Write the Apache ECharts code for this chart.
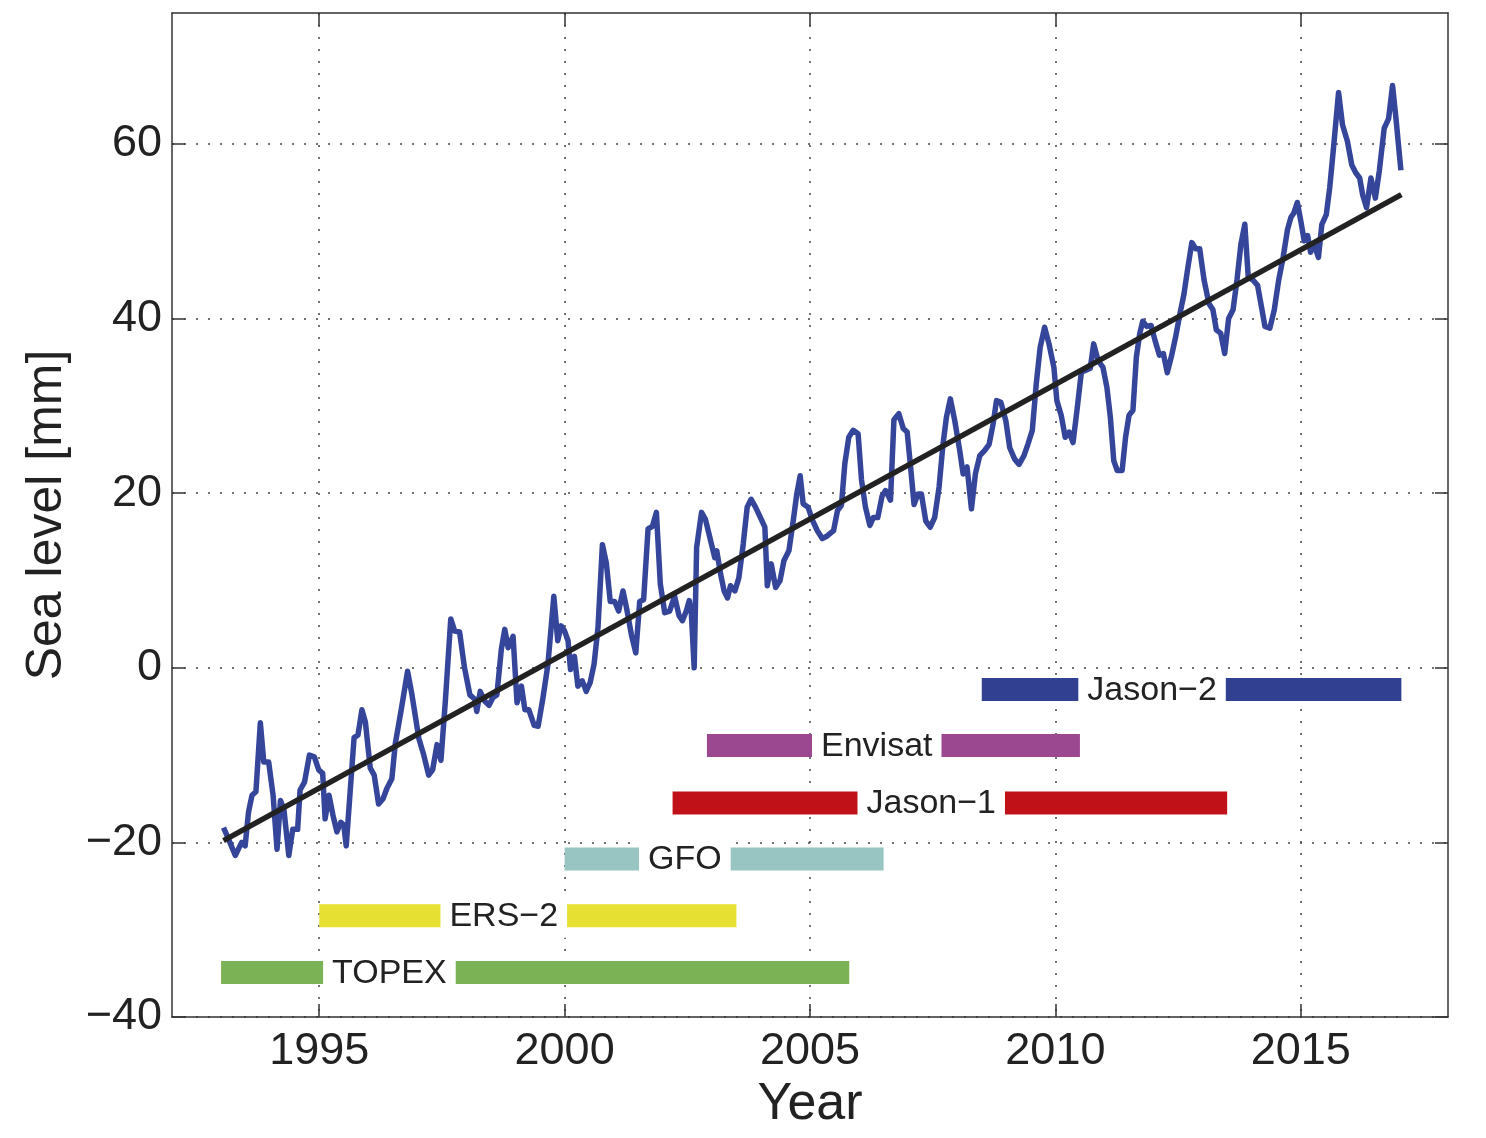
<!DOCTYPE html>
<html>
<head>
<meta charset="utf-8">
<script src="https://cdn.jsdelivr.net/npm/echarts@6/dist/echarts.min.js"></script>
<style>
html,body{margin:0;padding:0;background:#fff;}
#chart{width:1486px;height:1138px;}
</style>
</head>
<body>
<div id="chart"></div>
<script>
// ---- Data ----
const years = [
1993.05,1993.15,1993.29,1993.35,1993.42,1993.49,1993.56,1993.63,1993.71,1993.80,1993.87,1993.97,
1994.06,1994.14,1994.21,1994.28,1994.38,1994.46,1994.56,1994.61,1994.70,1994.80,1994.90,1994.99,
1995.07,1995.12,1995.20,1995.28,1995.36,1995.44,1995.50,1995.55,1995.63,1995.71,1995.79,1995.87,1995.94,
1996.04,1996.12,1996.21,1996.30,1996.38,1996.48,1996.55,1996.68,1996.80,1996.89,
1997.03,1997.13,1997.23,1997.31,1997.40,1997.48,1997.57,1997.68,1997.76,1997.86,1997.96,
1998.07,1998.17,1998.21,1998.28,1998.37,1998.46,1998.54,1998.62,1998.71,1998.78,1998.85,1998.95,
1999.03,1999.12,1999.19,1999.27,1999.38,1999.46,1999.56,1999.66,1999.78,1999.86,1999.93,
2000.00,2000.07,2000.12,2000.20,2000.27,2000.36,2000.44,2000.52,2000.60,2000.68,2000.77,2000.85,2000.93,
2001.02,2001.10,2001.19,2001.26,2001.36,2001.45,2001.53,2001.61,2001.70,2001.79,2001.87,2001.95,
2002.04,2002.14,2002.24,2002.33,2002.40,2002.48,2002.54,2002.58,2002.64,2002.69,2002.79,2002.87,2002.96,
2003.06,2003.10,2003.18,2003.25,2003.32,2003.38,2003.47,2003.55,2003.64,2003.72,2003.80,2003.89,2003.99,
2004.08,2004.13,2004.21,2004.30,2004.39,2004.47,2004.57,2004.66,2004.73,2004.80,2004.86,2004.96,
2005.05,2005.15,2005.25,2005.35,2005.48,2005.56,2005.64,2005.71,2005.79,2005.88,2005.98,
2006.05,2006.13,2006.22,2006.29,2006.38,2006.47,2006.54,2006.64,2006.71,2006.81,2006.90,2006.98,
2007.05,2007.12,2007.20,2007.27,2007.36,2007.45,2007.54,2007.63,2007.71,2007.78,2007.86,2007.95,
2008.05,2008.12,2008.20,2008.29,2008.37,2008.46,2008.56,2008.65,2008.73,2008.80,2008.89,2008.99,
2009.07,2009.17,2009.26,2009.36,2009.44,2009.53,2009.61,2009.69,2009.78,2009.87,2009.97,
2010.03,2010.12,2010.20,2010.28,2010.36,2010.44,2010.53,2010.63,2010.71,2010.78,2010.87,2010.97,
2011.05,2011.12,2011.19,2011.26,2011.36,2011.43,2011.50,2011.58,2011.65,2011.72,2011.78,2011.86,2011.95,
2012.03,2012.12,2012.20,2012.28,2012.37,2012.45,2012.54,2012.62,2012.69,2012.78,2012.86,2012.94,
2013.03,2013.13,2013.21,2013.28,2013.37,2013.45,2013.53,2013.62,2013.70,2013.78,2013.86,2013.93,
2014.03,2014.12,2014.21,2014.27,2014.37,2014.46,2014.55,2014.64,2014.73,2014.80,2014.86,2014.93,
2015.00,2015.07,2015.14,2015.20,2015.27,2015.36,2015.43,2015.52,2015.59,2015.66,2015.77,2015.85,2015.95,
2016.04,2016.12,2016.20,2016.26,2016.34,2016.43,2016.52,2016.60,2016.70,2016.79,2016.87,2016.94,2017.04
];
const seaLevel = [
-18.3,-19.6,-21.5,-20.8,-20.0,-20.4,-16.5,-14.6,-14.2,-6.3,-10.8,-10.8,
-14.6,-20.8,-15.2,-16.2,-21.5,-18.5,-18.5,-14.0,-13.1,-10.0,-10.2,-11.7,
-12.1,-17.3,-14.6,-16.9,-18.8,-17.7,-18.0,-20.4,-14.2,-8.0,-7.7,-4.8,-6.2,
-11.5,-12.3,-15.6,-15.0,-13.8,-12.7,-8.7,-4.5,-0.4,-3.1,
-8.1,-10.0,-12.3,-11.7,-8.8,-10.6,-3.8,5.6,4.2,4.1,0.0,
-3.1,-3.6,-5.0,-2.7,-3.8,-4.3,-3.4,-3.1,2.1,4.4,2.3,3.6,
-4.0,-2.1,-4.8,-4.8,-6.6,-6.7,-3.4,0.4,8.2,3.1,4.8,
4.2,3.1,-0.2,1.3,-2.1,-1.5,-2.7,-1.7,0.4,4.6,14.1,12.0,7.6,
7.6,6.5,8.8,6.9,3.8,1.7,7.6,7.8,15.9,16.2,17.8,9.6,
6.3,6.5,8.2,6.0,5.4,6.5,7.7,6.5,0.0,13.8,17.8,17.0,14.9,
12.6,13.4,10.7,8.8,8.0,9.4,8.8,10.3,14.2,18.4,19.3,18.4,17.2,
16.1,9.4,11.9,9.2,10.0,12.3,13.4,16.9,19.9,22.0,18.8,18.4,
16.9,15.7,14.8,15.1,15.7,18.0,18.6,23.4,26.4,27.2,26.8,
21.5,18.4,16.3,17.2,17.2,19.7,20.3,19.2,28.4,29.1,27.4,27.0,
23.0,18.7,19.9,19.9,16.8,16.1,17.2,20.7,25.6,28.7,30.8,28.3,
24.9,22.2,23.0,18.2,22.2,24.3,24.9,25.6,27.9,30.6,30.4,28.3,
25.2,23.9,23.3,24.3,25.6,27.2,32.5,36.7,39.0,37.1,34.4,
30.6,28.9,26.4,27.0,25.8,29.5,33.9,34.1,34.3,37.1,35.2,34.4,
32.1,28.7,23.7,22.6,22.6,26.4,28.9,29.5,35.6,38.3,39.7,39.1,39.2,
37.5,35.8,36.0,33.8,35.8,37.9,40.6,42.8,45.5,48.7,48.0,48.0,
44.4,41.7,41.0,38.7,38.3,36.0,40.0,41.0,44.4,48.5,50.8,44.7,
44.4,43.8,41.0,39.1,38.9,41.0,44.4,47.0,50.2,51.6,52.1,53.3,
51.2,48.9,49.5,47.6,48.5,47.0,50.8,51.9,55.0,59.1,65.9,62.2,60.3,
57.6,56.7,56.1,54.2,52.7,56.1,53.8,56.9,61.8,62.9,66.7,62.9,57.0
];
const trendYears = [1993.05, 2017.05];
const trendLevel = [-19.8, 54.2];

const missionNames = ['TOPEX', 'ERS\u22122', 'GFO', 'Jason\u22121', 'Envisat', 'Jason\u22122'];
const missionStart = [1993.0, 1995.0, 2000.0, 2002.2, 2002.9, 2008.5];
const missionEnd   = [2005.8, 2003.5, 2006.5, 2013.5, 2010.5, 2017.05];
const missionLane  = [-34.9, -28.4, -21.9, -15.5, -8.9, -2.5];
const missionLabelAt = [1996.43, 1998.76, 2002.45, 2007.47, 2006.36, 2011.97];

const xTicks = [1995, 2000, 2005, 2010, 2015];
const yTicks = [-40, -20, 0, 20, 40, 60];

// ---- Styling ----
const missionColors = ['#7ab255', '#e6e032', '#98c4c2', '#c01018', '#9b4891', '#324091'];
const FONT = "'Liberation Sans', Arial, Helvetica, sans-serif";
const gridLine = { show: true, lineStyle: { color: '#444', width: 1.5, type: [2, 10] } };
const frameLine = { show: true, onZero: false, lineStyle: { color: '#333', width: 1.5 } };
const tickStyle = { show: true, inside: true, length: 13, lineStyle: { color: '#333', width: 1.5 } };
const minus = v => String(v).replace('-', '\u2212');

const curveData = years.map((y, i) => [y, seaLevel[i]]);
const trendData = trendYears.map((y, i) => [y, trendLevel[i]]);
const missionData = missionNames.map((n, i) => [missionStart[i], missionEnd[i], missionLane[i], missionLabelAt[i], i]);

const chart = echarts.init(document.getElementById('chart'), null, { renderer: 'canvas' });
chart.setOption({
  animation: false,
  backgroundColor: '#fff',
  grid: { left: 172, right: 38, top: 13, bottom: 121 },
  xAxis: [{
    type: 'value', min: 1992, max: 2018, position: 'bottom',
    name: 'Year', nameLocation: 'middle', nameGap: 56,
    nameTextStyle: { fontSize: 52, color: '#222', fontFamily: FONT },
    axisLine: frameLine,
    axisTick: Object.assign({ customValues: xTicks }, tickStyle),
    axisLabel: { customValues: xTicks, fontSize: 45, color: '#222', fontFamily: FONT, margin: 12, formatter: v => String(v) },
    splitLine: gridLine
  }, {
    type: 'value', min: 1992, max: 2018, position: 'top',
    axisLine: frameLine,
    axisTick: Object.assign({ customValues: xTicks }, tickStyle),
    axisLabel: { show: false },
    splitLine: { show: false }
  }],
  yAxis: [{
    type: 'value', min: -40, max: 75, interval: 20, position: 'left',
    name: 'Sea level [mm]', nameLocation: 'middle', nameGap: 100,
    nameTextStyle: { fontSize: 50, color: '#222', fontFamily: FONT },
    axisLine: frameLine,
    axisTick: Object.assign({ customValues: yTicks }, tickStyle),
    axisLabel: { customValues: yTicks, fontSize: 45, color: '#222', fontFamily: FONT, margin: 10, formatter: minus },
    splitLine: gridLine
  }, {
    type: 'value', min: -40, max: 75, interval: 20, position: 'right',
    axisLine: frameLine,
    axisTick: Object.assign({ customValues: yTicks }, tickStyle),
    axisLabel: { show: false },
    splitLine: { show: false }
  }],
  series: [{
    type: 'custom',
    name: 'missions',
    xAxisIndex: 0, yAxisIndex: 0,
    data: missionData,
    z: 3,
    renderItem: function (params, api) {
      const s = api.coord([api.value(0), api.value(2)]);
      const e = api.coord([api.value(1), api.value(2)]);
      const l = api.coord([api.value(3), api.value(2)]);
      const idx = api.value(4);
      const h = 23;
      return {
        type: 'group',
        children: [{
          type: 'rect',
          shape: { x: s[0], y: s[1] - h / 2, width: e[0] - s[0], height: h },
          style: { fill: missionColors[idx] }
        }, {
          type: 'text',
          x: l[0], y: l[1] + 1,
          style: {
            text: missionNames[idx], fill: '#222',
            font: '34px ' + FONT, align: 'center', verticalAlign: 'middle',
            backgroundColor: '#fff', padding: [4, 9]
          }
        }]
      };
    }
  }, {
    type: 'line',
    name: 'Sea level',
    data: curveData,
    showSymbol: false,
    z: 4,
    lineStyle: { color: '#35469a', width: 5.5, join: 'round' },
    itemStyle: { color: '#35469a' }
  }, {
    type: 'line',
    name: 'Trend',
    data: trendData,
    showSymbol: false,
    z: 5,
    lineStyle: { color: '#222', width: 5.5 },
    itemStyle: { color: '#222' }
  }]
});
</script>
</body>
</html>
